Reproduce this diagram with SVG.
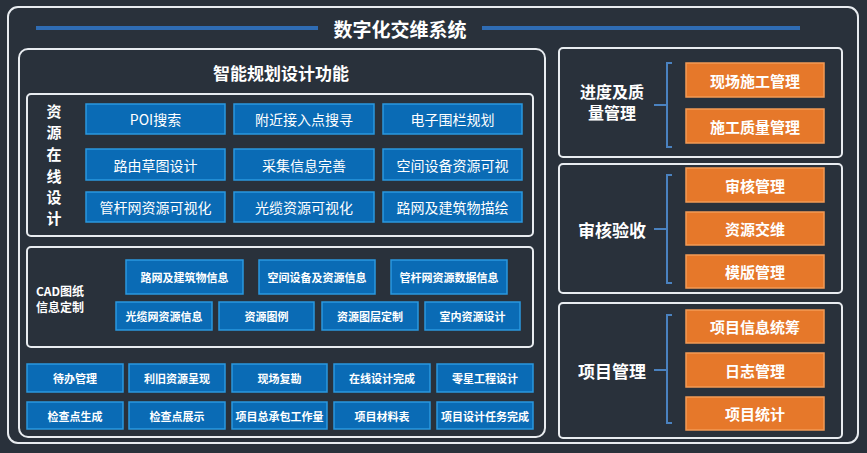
<svg xmlns="http://www.w3.org/2000/svg" width="867" height="453" viewBox="0 0 867 453">
<style>
text{font-family:"Noto Sans CJK SC","Liberation Sans",sans-serif;fill:#fff;text-anchor:middle;dominant-baseline:central}
.frame{fill:none;stroke:#e8ecf0;stroke-width:2}
.b{fill:#0a6bb5;stroke:#2a98e0;stroke-width:1.5}
.o{fill:#e6782a;stroke:#f39a55;stroke-width:1.5}
.t1{font-size:14px}
.t2{font-size:11px;font-weight:bold}
.to{font-size:15px;font-weight:bold}
.h{font-size:17px;font-weight:bold}
.v{font-size:16px;font-weight:bold}
.vc{font-size:15px;font-weight:bold}
.br{fill:none;stroke:#4a82c0;stroke-width:2}
</style>
<rect width="867" height="453" fill="#29313b"/>
<g id="outer">
<rect class="frame" x="8" y="7" width="850" height="436" rx="10"/>
<rect x="36" y="26" width="282" height="4" fill="#2f6cb3"/>
<rect x="482" y="26" width="318" height="4" fill="#2f6cb3"/>
<text x="400" y="28" style="font-size:19px;font-weight:bold">数字化交维系统</text>
</g>
<g id="left-panel">
<rect class="frame" x="19" y="49" width="526" height="388" rx="9"/>
<text x="281" y="72" class="h">智能规划设计功能</text>
</g>
<g id="online-design">
<rect class="frame" x="27" y="94" width="506" height="142" rx="4"/>
<text x="54" y="110" class="vc">资</text><text x="54" y="131" class="vc">源</text><text x="54" y="153" class="vc">在</text><text x="54" y="175" class="vc">线</text><text x="54" y="196" class="vc">设</text><text x="54" y="217" class="vc">计</text>
<rect class="b" x="86" y="104" width="139" height="30"/><text class="t1" x="155.5" y="119">POI搜索</text>
<rect class="b" x="234" y="104" width="140" height="30"/><text class="t1" x="304" y="119">附近接入点搜寻</text>
<rect class="b" x="383" y="104" width="139" height="30"/><text class="t1" x="452.5" y="119">电子围栏规划</text>
<rect class="b" x="86" y="149" width="139" height="31"/><text class="t1" x="155.5" y="164.5">路由草图设计</text>
<rect class="b" x="234" y="149" width="140" height="31"/><text class="t1" x="304" y="164.5">采集信息完善</text>
<rect class="b" x="383" y="149" width="139" height="31"/><text class="t1" x="452.5" y="164.5">空间设备资源可视</text>
<rect class="b" x="86" y="192" width="139" height="30"/><text class="t1" x="155.5" y="207">管杆网资源可视化</text>
<rect class="b" x="234" y="192" width="140" height="30"/><text class="t1" x="304" y="207">光缆资源可视化</text>
<rect class="b" x="383" y="192" width="139" height="30"/><text class="t1" x="452.5" y="207">路网及建筑物描绘</text>
</g>
<g id="cad">
<rect class="frame" x="27" y="247" width="506" height="100" rx="4"/>
<text x="60" y="290" style="font-size:12px;font-weight:bold">CAD图纸</text>
<text x="60" y="306" style="font-size:12px;font-weight:bold">信息定制</text>
<rect class="b" x="126" y="260" width="117" height="34"/><text class="t2" x="184.5" y="277">路网及建筑物信息</text>
<rect class="b" x="259" y="260" width="116" height="34"/><text class="t2" x="317" y="277">空间设备及资源信息</text>
<rect class="b" x="391" y="260" width="116" height="34"/><text class="t2" x="449" y="277">管杆网资源数据信息</text>
<rect class="b" x="116" y="302" width="96" height="28"/><text class="t2" x="164" y="316">光缆网资源信息</text>
<rect class="b" x="219" y="302" width="95" height="28"/><text class="t2" x="266.5" y="316">资源图例</text>
<rect class="b" x="322" y="302" width="96" height="28"/><text class="t2" x="370" y="316">资源图层定制</text>
<rect class="b" x="425" y="302" width="95" height="28"/><text class="t2" x="472.5" y="316">室内资源设计</text>
</g>
<g id="tasks">
<rect class="b" x="27" y="364" width="96" height="28"/><text class="t2" x="75" y="378">待办管理</text>
<rect class="b" x="129" y="364" width="96" height="28"/><text class="t2" x="177" y="378">利旧资源呈现</text>
<rect class="b" x="232" y="364" width="95" height="28"/><text class="t2" x="279.5" y="378">现场复勘</text>
<rect class="b" x="334" y="364" width="96" height="28"/><text class="t2" x="382" y="378">在线设计完成</text>
<rect class="b" x="437" y="364" width="96" height="28"/><text class="t2" x="485" y="378">零星工程设计</text>
<rect class="b" x="27" y="402" width="96" height="27"/><text class="t2" x="75" y="415.5">检查点生成</text>
<rect class="b" x="129" y="402" width="96" height="27"/><text class="t2" x="177" y="415.5">检查点展示</text>
<rect class="b" x="232" y="402" width="95" height="27"/><text class="t2" x="279.5" y="415.5">项目总承包工作量</text>
<rect class="b" x="334" y="402" width="96" height="27"/><text class="t2" x="382" y="415.5">项目材料表</text>
<rect class="b" x="437" y="402" width="96" height="27"/><text class="t2" x="485" y="415.5">项目设计任务完成</text>
</g>
<g id="progress">
<rect class="frame" x="559" y="48" width="283" height="109" rx="4"/>
<text x="612" y="91" class="v">进度及质</text>
<text x="612" y="112" class="v">量管理</text>
<rect class="o" x="686" y="63" width="138" height="34"/><text class="to" x="755" y="80">现场施工管理</text>
<rect class="o" x="686" y="109" width="138" height="34"/><text class="to" x="755" y="126">施工质量管理</text>
</g>
<g id="review">
<rect class="frame" x="559" y="164" width="283" height="129" rx="4"/>
<text x="612" y="229" class="h">审核验收</text>
<rect class="o" x="686" y="168" width="138" height="34"/><text class="to" x="755" y="185">审核管理</text>
<rect class="o" x="686" y="212" width="138" height="33"/><text class="to" x="755" y="228.5">资源交维</text>
<rect class="o" x="686" y="255" width="138" height="33"/><text class="to" x="755" y="271.5">模版管理</text>
</g>
<g id="project">
<rect class="frame" x="559" y="303" width="283" height="135" rx="4"/>
<text x="612" y="370" class="h">项目管理</text>
<rect class="o" x="686" y="310" width="138" height="33"/><text class="to" x="755" y="326.5">项目信息统筹</text>
<rect class="o" x="686" y="353" width="138" height="34"/><text class="to" x="755" y="370">日志管理</text>
<rect class="o" x="686" y="397" width="138" height="33"/><text class="to" x="755" y="413.5">项目统计</text>
</g>
<g id="connectors">
<path class="br" d="M672 63H667V147H672M667 105H654"/>
<path class="br" d="M672 175H667V283H672M667 229H654"/>
<path class="br" d="M672 315H667V423H672M667 370H654"/>
</g>
</svg>
